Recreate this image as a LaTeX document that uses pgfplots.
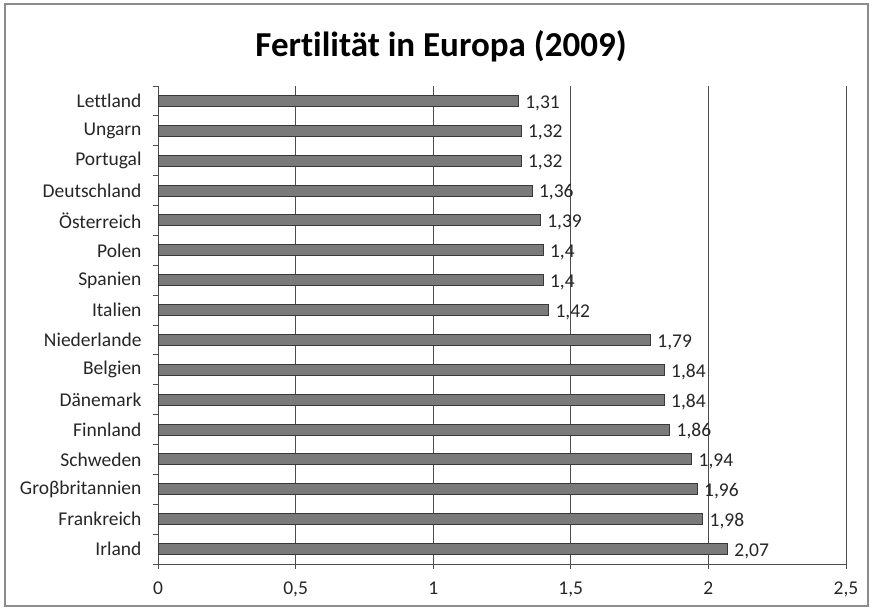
\documentclass[border=0pt]{standalone}
\usepackage{pgfplots}
\pgfplotsset{compat=1.18}
\usepackage{fontspec}
\setmainfont{Carlito}[Ligatures={NoCommon}]
\pgfkeys{/pgf/number format/.cd, use comma, 1000 sep={}, assume math mode=true}
\begin{document}
\begin{tikzpicture}[x=1pt,y=1pt]
\path (0,0) rectangle (873,610);
\draw[color=black!45, line width=1.8pt] (5,4) rectangle (868,606);
\node[font=\bfseries\fontsize{35}{42}\selectfont] at (441,564) {Fertilität in Europa (2009)};
\begin{axis}[
  at={(158pt,46pt)}, anchor=south west,
  scale only axis, width=688pt, height=478pt,
  xmin=0, xmax=2.5, ymin=-0.5, ymax=15.5,
  xbar, bar width=11pt,
  axis lines*=left,
  axis line style={draw=black!70, line width=0.9pt},
  xtick={0,0.5,1,1.5,2,2.5},
  xmajorgrids,
  major grid style={draw=black!70, line width=0.9pt},
  tick align=outside, major tick length=5pt,
  tick style={draw=black!70, line width=0.9pt},
  ytick={-0.5,0.5,...,14.5},
  yticklabels={Irland,Frankreich,Groβbritannien,Schweden,Finnland,Dänemark,Belgien,Niederlande,Italien,Spanien,Polen,Österreich,Deutschland,Portugal,Ungarn,Lettland},
  yticklabel style={yshift=14.94pt, xshift=-8pt},
  extra y ticks={15.5}, extra y tick labels={},
  ticklabel style={font=\fontsize{19.5}{23}\selectfont, text=black!85},
  xticklabel style={yshift=-9pt},
  /pgf/number format/assume math mode=true,
  nodes near coords,
  every node near coord/.append style={font=\fontsize{19.5}{23}\selectfont, text=black!85, anchor=west, xshift=3pt, yshift=-2pt},
]
\addplot[fill=black!52, draw=black!78, line width=0.9pt] coordinates {
(2.07,0) (1.98,1) (1.96,2) (1.94,3) (1.86,4) (1.84,5) (1.84,6) (1.79,7)
(1.42,8) (1.4,9) (1.4,10) (1.39,11) (1.36,12) (1.32,13) (1.32,14) (1.31,15)
};
\end{axis}
\end{tikzpicture}
\end{document}
